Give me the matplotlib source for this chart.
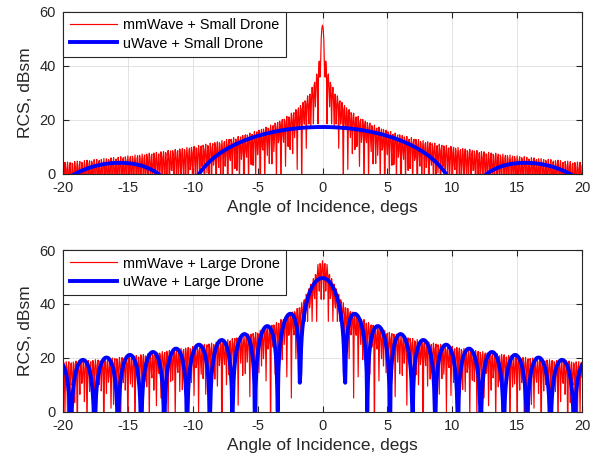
import numpy as np
import matplotlib
matplotlib.use("Agg")
import matplotlib.pyplot as plt

# ---------------- data ----------------
angle_limits = [-20.0, 20.0]          # degs
angle_step = 0.05                     # sampling step of the computed patterns (degs)
x_ticks = [-20, -15, -10, -5, 0, 5, 10, 15, 20]
y_ticks = [0, 20, 40, 60]

# top panel: small drone (flat-plate sinc patterns: peak dBsm, null spacing in sin(theta))
mm_small_peak_db = 55.0
mm_small_null_sin = 0.0031
uw_small_peak_db = 17.3
uw_small_null_sin = 0.1882

# bottom panel: large drone
uw_large_peak_db = 49.6
uw_large_null_sin = 0.03019
mm_large_ripple_sin = 0.0031
mm_large_env_deg = [0.0, 0.3, 0.6, 1.0, 1.3, 1.6, 2.0, 2.5, 3.5, 5.0, 7.5, 10.0, 12.5, 15.0, 17.5, 20.0]
mm_large_env_db = [56.0, 55.5, 50.5, 46.5, 43.0, 40.5, 38.0, 36.5, 33.2, 29.7, 26.5, 24.2, 22.2, 20.5, 19.3, 18.5]
mm_large_floor_deg = 1.55
mm_large_floor_db = 33.5

labels_top = ["mmWave + Small Drone", "uWave + Small Drone"]
labels_bot = ["mmWave + Large Drone", "uWave + Large Drone"]
x_label = "Angle of Incidence, degs"
y_label = "RCS, dBsm"

# ---------------- series ----------------
n = int(round((angle_limits[1] - angle_limits[0]) / angle_step)) + 1
theta = np.linspace(angle_limits[0], angle_limits[1], n)
sth = np.sin(np.radians(theta))


def sinc_db(peak, null_sin):
    v = np.abs(np.sinc(sth / null_sin))
    return peak + 20 * np.log10(np.maximum(v, 1e-9))


mm_small = sinc_db(mm_small_peak_db, mm_small_null_sin)
uw_small = sinc_db(uw_small_peak_db, uw_small_null_sin)
uw_large = sinc_db(uw_large_peak_db, uw_large_null_sin)

env = np.interp(np.abs(theta), mm_large_env_deg, mm_large_env_db)
ripple = np.abs(np.cos(np.pi * sth / mm_large_ripple_sin))
mm_large = env + 20 * np.log10(np.maximum(ripple, 1e-9))
center = np.abs(theta) <= mm_large_floor_deg
mm_large[center] = np.maximum(mm_large[center], mm_large_floor_db)

# ---------------- figure ----------------
plt.rcParams['font.family'] = ['Liberation Sans', 'DejaVu Sans']
plt.rcParams['axes.unicode_minus'] = False
fig = plt.figure(figsize=(6.07, 4.65), dpi=100)
W, H = 607.0, 465.0
ax_l, ax_r = 63.0, 582.0
panels = [(11.7, 173.7), (250.0, 411.7)]

axis_col = '#262626'
for k, (top, bot) in enumerate(panels):
    ax = fig.add_axes([ax_l / W, 1 - bot / H, (ax_r - ax_l) / W, (bot - top) / H])
    if k == 0:
        l1, = ax.plot(theta, mm_small, color='#ff0000', lw=0.85)
        l2, = ax.plot(theta, uw_small, color='#0000ff', lw=2.8)
        labs = labels_top
    else:
        l1, = ax.plot(theta, mm_large, color='#ff0000', lw=0.85)
        l2, = ax.plot(theta, uw_large, color='#0000ff', lw=2.8)
        labs = labels_bot
    ax.set_xlim(angle_limits)
    ax.set_ylim(0, 60)
    ax.set_xticks(x_ticks)
    ax.set_yticks(y_ticks)
    ax.grid(True, color='#dedede', lw=0.6)
    ax.set_axisbelow(True)
    for sp in ax.spines.values():
        sp.set_color(axis_col)
        sp.set_linewidth(0.8)
    ax.tick_params(direction='in', top=True, right=True, length=4, width=0.8,
                   color=axis_col, labelcolor=axis_col, labelsize=10.5)
    ax.tick_params(axis='x', pad=5.5)
    ax.tick_params(axis='y', pad=5.0)
    ax.set_xlabel(x_label, fontsize=12.5, color=axis_col, labelpad=3.5)
    ax.set_ylabel(y_label, fontsize=12.5, color=axis_col, labelpad=5)
    leg = ax.legend([l1, l2], labs, loc='upper left', bbox_to_anchor=(0, 1),
                    borderaxespad=0, fancybox=False, framealpha=1,
                    edgecolor=axis_col, fontsize=10.4, handlelength=3.3,
                    handletextpad=0.4, borderpad=0.45, labelspacing=0.3)
    leg.get_frame().set_linewidth(0.8)
    for t in leg.get_texts():
        t.set_color('#000000')

fig.savefig("out.png", dpi=100)
